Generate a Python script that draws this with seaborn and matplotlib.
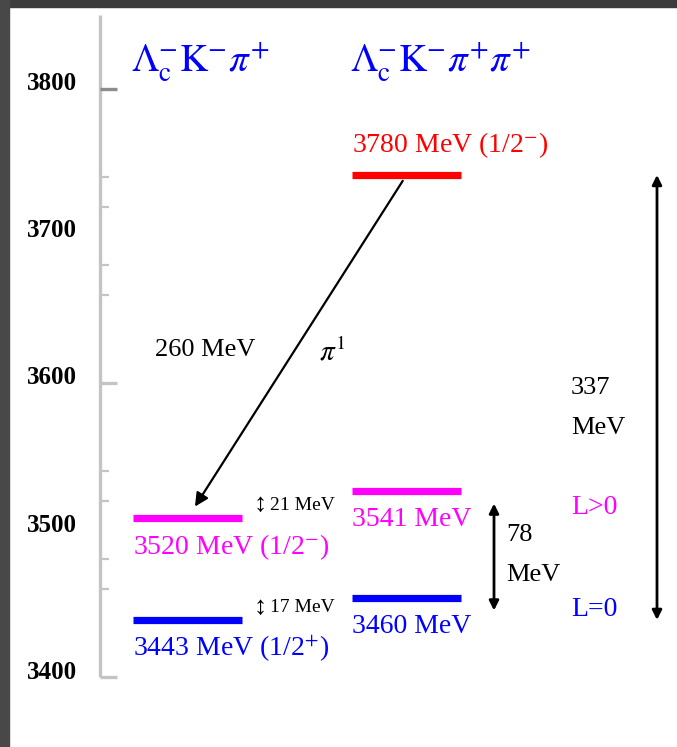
import matplotlib
matplotlib.use("Agg")
import matplotlib.pyplot as plt
import matplotlib.transforms as mtransforms
from matplotlib.patches import Rectangle
import pandas as pd
import seaborn as sns

# ---- data -------------------------------------------------------------
channels = [r"$\Lambda_{\mathrm{c}}^{-}\mathrm{K}^{-}\pi^{+}$",
            r"$\Lambda_{\mathrm{c}}^{-}\mathrm{K}^{-}\pi^{+}\pi^{+}$"]
level_channel = [0, 0, 1, 1, 1]
level_mass = [3443, 3520, 3460, 3541, 3780]           # MeV
level_spin = ["(1/2$^{+}$)", "(1/2$^{-}$)", "", "", "(1/2$^{-}$)"]
level_color = ["#0000ff", "#ff00ff", "#0000ff", "#ff00ff", "#ff0000"]

ruler_labels = [3400, 3500, 3600, 3700, 3800]
ruler_major = [3400, 3600, 3800]
ruler_minor = [3460, 3480, 3520, 3540, 3660, 3680, 3720, 3740]

pion_energy = 260            # MeV, 3780 -> 3520 transition
splittings_left = [21, 17]   # MeV, fine splitting of the left levels
gap_right = 78               # MeV
gap_total = 337              # MeV

levels = pd.DataFrame({"channel": level_channel, "mass": level_mass,
                       "spin": level_spin, "color": level_color})
levels["label"] = [f"{m} MeV {s}".rstrip() for m, s in zip(levels["mass"], levels["spin"])]

# ---- style ------------------------------------------------------------
sns.set_theme(style="white")
plt.rcParams["font.family"] = ["Liberation Serif", "DejaVu Sans"]
plt.rcParams["mathtext.fontset"] = "stix"
plt.rcParams["text.color"] = "black"

W, H, DPI = 677, 747, 100
fig = plt.figure(figsize=(W / DPI, H / DPI), dpi=DPI)
fig.patch.set_facecolor("white")

# levels axes: x runs in figure pixels, y in MeV
ax = fig.add_axes([0, 0, 1, 1])
ax.set_xlim(0, W)
ax.set_ylim(3346.8, 3912.5)
ax.axis("off")

# energy ruler on its own scale
ax_r = ax.twinx()
ax_r.set_position([0, 0, 1, 1])
ax_r.set_ylim(3352.4, 3860.5)
ax_r.axis("off")


def fxy(px, py):
    return px / W, 1 - py / H


col_center = [187.5, 406.5]
half_w = 54.5

# ---- ruler -------------------------------------------------------------
ax_r.vlines(100, ruler_major[0], 3850, color="#c4c4c4", lw=2.4)
ax_r.hlines(ruler_minor, 100, 109, color="#c4c4c4", lw=1.6)
ax_r.hlines(ruler_major, 100, 117, color=["#c4c4c4", "#c4c4c4", "#8c8c8c"], lw=2.4)
lab_shift = mtransforms.ScaledTranslation(0, 5 / DPI, fig.dpi_scale_trans)
for v in ruler_labels:
    ax_r.text(77, v, str(v), ha="right", va="center", fontsize=18,
              fontweight="bold", color="black",
              transform=ax_r.transData + lab_shift)

# ---- headers -----------------------------------------------------------
for i, name in enumerate(channels):
    fig.text(*fxy(col_center[i] - half_w - 2, 72), name, ha="left",
             va="baseline", fontsize=28, color="#0000ff")

# ---- levels ------------------------------------------------------------
for _, r in levels.iterrows():
    c = col_center[r["channel"]]
    ax.hlines(r["mass"], c - half_w, c + half_w, color=r["color"], lw=5.2)
    dy = 30 if r["mass"] > 3700 else -29
    ax.annotate(r["label"], xy=(c - half_w, r["mass"]), xytext=(0, dy),
                textcoords="offset pixels", ha="left", va="center",
                fontsize=20, color=r["color"])

# pion transition
m_hi = levels.loc[levels["mass"].idxmax()]
m_to = levels[(levels["channel"] == 0) & (levels["spin"] == "(1/2$^{-}$)")].iloc[0]
ax.annotate("", xy=(col_center[0], m_to["mass"]), xytext=(col_center[1], m_hi["mass"]),
            arrowprops=dict(arrowstyle="-|>", color="black", lw=1.6,
                            mutation_scale=20, shrinkA=5, shrinkB=10))
fig.text(*fxy(155, 350), f"{pion_energy} MeV", ha="left", va="center",
         fontsize=19, color="black")
fig.text(*fxy(319, 352), r"$\pi^{1}$", ha="left", va="center",
         fontsize=21, color="black")

# fine splittings beside the left levels
for py, s in zip([505, 608], splittings_left):
    fig.text(*fxy(254, py), "↕", ha="left", va="center",
             fontsize=19, color="black")
    fig.text(*fxy(270, py), f"{s} MeV", ha="left", va="center",
             fontsize=14, color="black")

# 78 MeV gap between the right levels
shift = mtransforms.ScaledTranslation(0, -13 / DPI, fig.dpi_scale_trans)
tr = ax.transData + shift
ax.annotate("", xy=(494, 3460), xycoords=tr, xytext=(494, 3541), textcoords=tr,
            arrowprops=dict(arrowstyle="<|-|>", color="black", lw=2,
                            mutation_scale=14, shrinkA=0, shrinkB=0))
fig.text(*fxy(506, 535), f"{gap_right}", ha="left", va="center", fontsize=19)
fig.text(*fxy(506, 575), "MeV", ha="left", va="center", fontsize=19)

# total gap 3780 -> 3443
ax.annotate("", xy=(657, min(level_mass)), xytext=(657, max(level_mass)),
            arrowprops=dict(arrowstyle="<|-|>", color="black", lw=2,
                            mutation_scale=14, shrinkA=0, shrinkB=0))
fig.text(*fxy(571, 388), f"{gap_total}", ha="left", va="center", fontsize=19)
fig.text(*fxy(571, 428), "MeV", ha="left", va="center", fontsize=19)
fig.text(*fxy(571, 507), "L>0", ha="left", va="center", fontsize=20, color="#ff00ff")
fig.text(*fxy(571, 609), "L=0", ha="left", va="center", fontsize=20, color="#0000ff")

# window frame edges
fig.patches.append(Rectangle((0, 1 - 7 / H), 1, 7 / H, transform=fig.transFigure,
                             color="#3c3c3c", zorder=10))
fig.patches.append(Rectangle((0, 0), 9 / W, 1, transform=fig.transFigure,
                             color="#484848", zorder=10))

fig.savefig("out.png", dpi=DPI)
